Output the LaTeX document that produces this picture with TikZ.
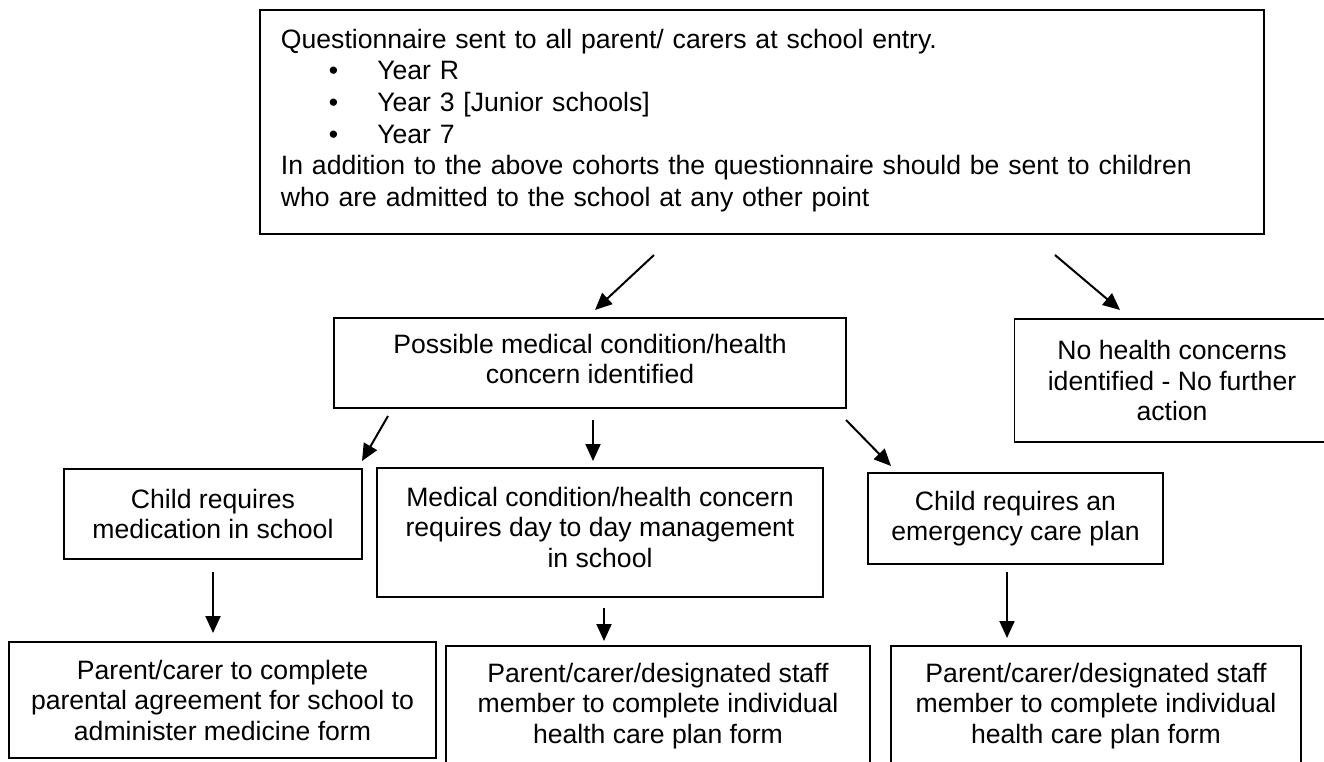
\documentclass[tikz,border=0pt]{standalone}
\usepackage{fontspec}
\setmainfont{Liberation Sans}
\usetikzlibrary{arrows.meta}
\begin{document}
\begin{tikzpicture}[x=1pt,y=-1pt,
  box/.style={draw=black, line width=1.9pt, align=center, inner sep=0pt,
    font=\fontsize{26.6}{30.5}\selectfont},
  arr/.style={line width=2pt, -{Triangle[length=17pt,width=15pt]}}]
\useasboundingbox (0,0) rectangle (1324,762);
\fill[white] (0,0) rectangle (1324,762);

\node[box, anchor=north west, align=left, text width=962pt, inner xsep=21pt,
  minimum width=1004pt, minimum height=224pt,
  font=\fontsize{26.6}{31.6}\selectfont] (top) at (259,9)
  {Questionnaire sent to all parent/ carers at school entry.\\
   \hspace*{48pt}\textbullet\hspace*{39pt}Year R\\
   \hspace*{48pt}\textbullet\hspace*{39pt}Year 3 [Junior schools]\\
   \hspace*{48pt}\textbullet\hspace*{39pt}Year 7\\
   In addition to the above cohorts the questionnaire should be sent to children\\
   who are admitted to the school at any other point\\[-23pt]\mbox{}};

\node[box, minimum width=512pt, minimum height=90pt] (poss) at (590,363)
  {Possible medical condition/health\\concern identified\\[-22pt]\mbox{}};
\node[box, minimum width=315pt, minimum height=123pt] (none) at (1172,380.5)
  {No health concerns\\identified - No further\\action};
\node[box, minimum width=298pt, minimum height=90pt] (child) at (213,514)
  {Child requires\\medication in school};
\node[box, minimum width=446pt, minimum height=129pt] (medical) at (600,532.5)
  {Medical condition/health concern\\requires day to day management\\in school\\[-19.5pt]\mbox{}};
\node[box, minimum width=295pt, minimum height=91pt] (emerg) at (1015.5,518.5)
  {Child requires an\\emergency care plan};
\node[box, minimum width=427pt, minimum height=116pt] (pleft) at (222.5,700)
  {Parent/carer to complete\\parental agreement for school to\\administer medicine form};
\node[box, minimum width=424pt, minimum height=120pt] (pmid) at (658,706)
  {Parent/carer/designated staff\\member to complete individual\\health care plan form};
\node[box, minimum width=410pt, minimum height=120pt] (pright) at (1096,706)
  {Parent/carer/designated staff\\member to complete individual\\health care plan form};

\coordinate (a1s) at (654,255); \coordinate (a1e) at (595,310);
\coordinate (a2s) at (1055,255); \coordinate (a2e) at (1120,310);
\coordinate (a3s) at (388,416); \coordinate (a3e) at (362,461);
\coordinate (a4s) at (593,420); \coordinate (a4e) at (593,461);
\coordinate (a5s) at (846,420); \coordinate (a5e) at (891,466);
\coordinate (a6s) at (213,572); \coordinate (a6e) at (213,633);
\coordinate (a7s) at (604,608); \coordinate (a7e) at (604,641);
\coordinate (a8s) at (1007,572); \coordinate (a8e) at (1007,638);

\draw[arr] (a1s) -- (a1e);
\draw[arr] (a2s) -- (a2e);
\draw[arr] (a3s) -- (a3e);
\draw[arr] (a4s) -- (a4e);
\draw[arr] (a5s) -- (a5e);
\draw[arr] (a6s) -- (a6e);
\draw[arr] (a7s) -- (a7e);
\draw[arr] (a8s) -- (a8e);
\end{tikzpicture}
\end{document}
